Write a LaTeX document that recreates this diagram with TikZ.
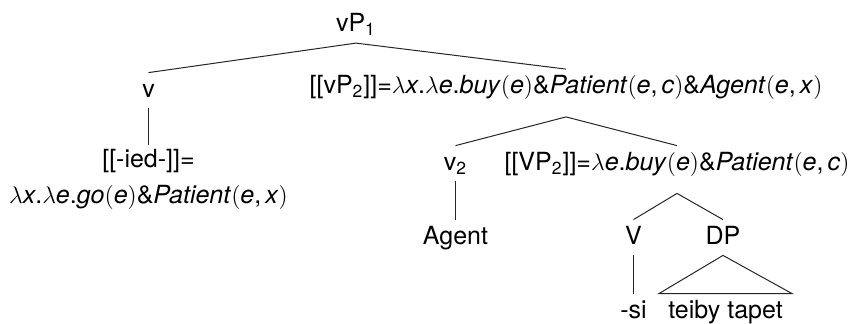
\documentclass[tikz,border=0pt]{standalone}
\usepackage{fontspec}
\setmainfont{TeX Gyre Heros}
\newcommand{\ti}[1]{\textit{#1}}
\newcommand{\lp}{$($}
\newcommand{\rp}{$)$}
\newcommand{\lam}{$\lambda$}
\begin{document}
\begin{tikzpicture}[x=0.5pt,y=-0.5pt,
  every node/.style={font=\fontsize{12.5}{18}\selectfont, inner sep=0pt},
  lbl/.style={anchor=base, text height=12pt, text depth=5.5pt},
  plbl/.style={anchor=base, text height=12pt, text depth=11.5pt},
  branch/.style={draw=black!85, line width=0.5pt}]
\useasboundingbox (0,0) rectangle (850,323);
\node[lbl] (vP1) at (356,31.7) {vP\textsubscript{1}};
\node[lbl] (v) at (148.5,97) {v};
\node[plbl] (vP2) at (566,93.5) {[[vP\textsubscript{2}]]=\lam\ti{x}.\lam\ti{e}.\ti{buy}\lp\ti{e}\rp\&\ti{Patient}\lp\ti{e},\,\ti{c}\rp\&\ti{Agent}\lp\ti{e},\,\ti{x}\rp};
\node[anchor=north, align=center, inner ysep=1.8pt] (ied) at (148.5,145) {[[-ied-]]=\\\lam\ti{x}.\lam\ti{e}.\ti{go}\lp\ti{e}\rp\&\ti{Patient}\lp\ti{e},\,\ti{x}\rp};
\node[lbl] (v2) at (455.5,170) {v\textsubscript{2}};
\node[plbl] (VP2) at (677,170) {[[VP\textsubscript{2}]]=\lam\ti{e}.\ti{buy}\lp\ti{e}\rp\&\ti{Patient}\lp\ti{e},\,\ti{c}\rp};
\node[lbl] (agent) at (455.5,244) {Agent};
\node[lbl] (V) at (633.5,244) {V};
\node[lbl] (DP) at (723,244) {DP};
\node[lbl] (si) at (633.5,318) {-si};
\node[lbl, inner xsep=4.5pt] (tt) at (725.5,318) {teiby tapet};
\draw[branch] (vP1.south) -- (v.north);
\draw[branch] (vP1.south) -- (vP2.north);
\draw[branch] (v.south) -- (ied.north);
\draw[branch] (vP2.south) -- (v2.north);
\draw[branch] (vP2.south) -- (VP2.north);
\draw[branch] (v2.south) -- (agent.north);
\draw[branch] (VP2.south) -- (V.north);
\draw[branch] (VP2.south) -- (DP.north);
\draw[branch] (V.south) -- (si.north);
\draw[branch] (DP.south) -- (tt.north west) -- (tt.north east) -- cycle;
\end{tikzpicture}
\end{document}
